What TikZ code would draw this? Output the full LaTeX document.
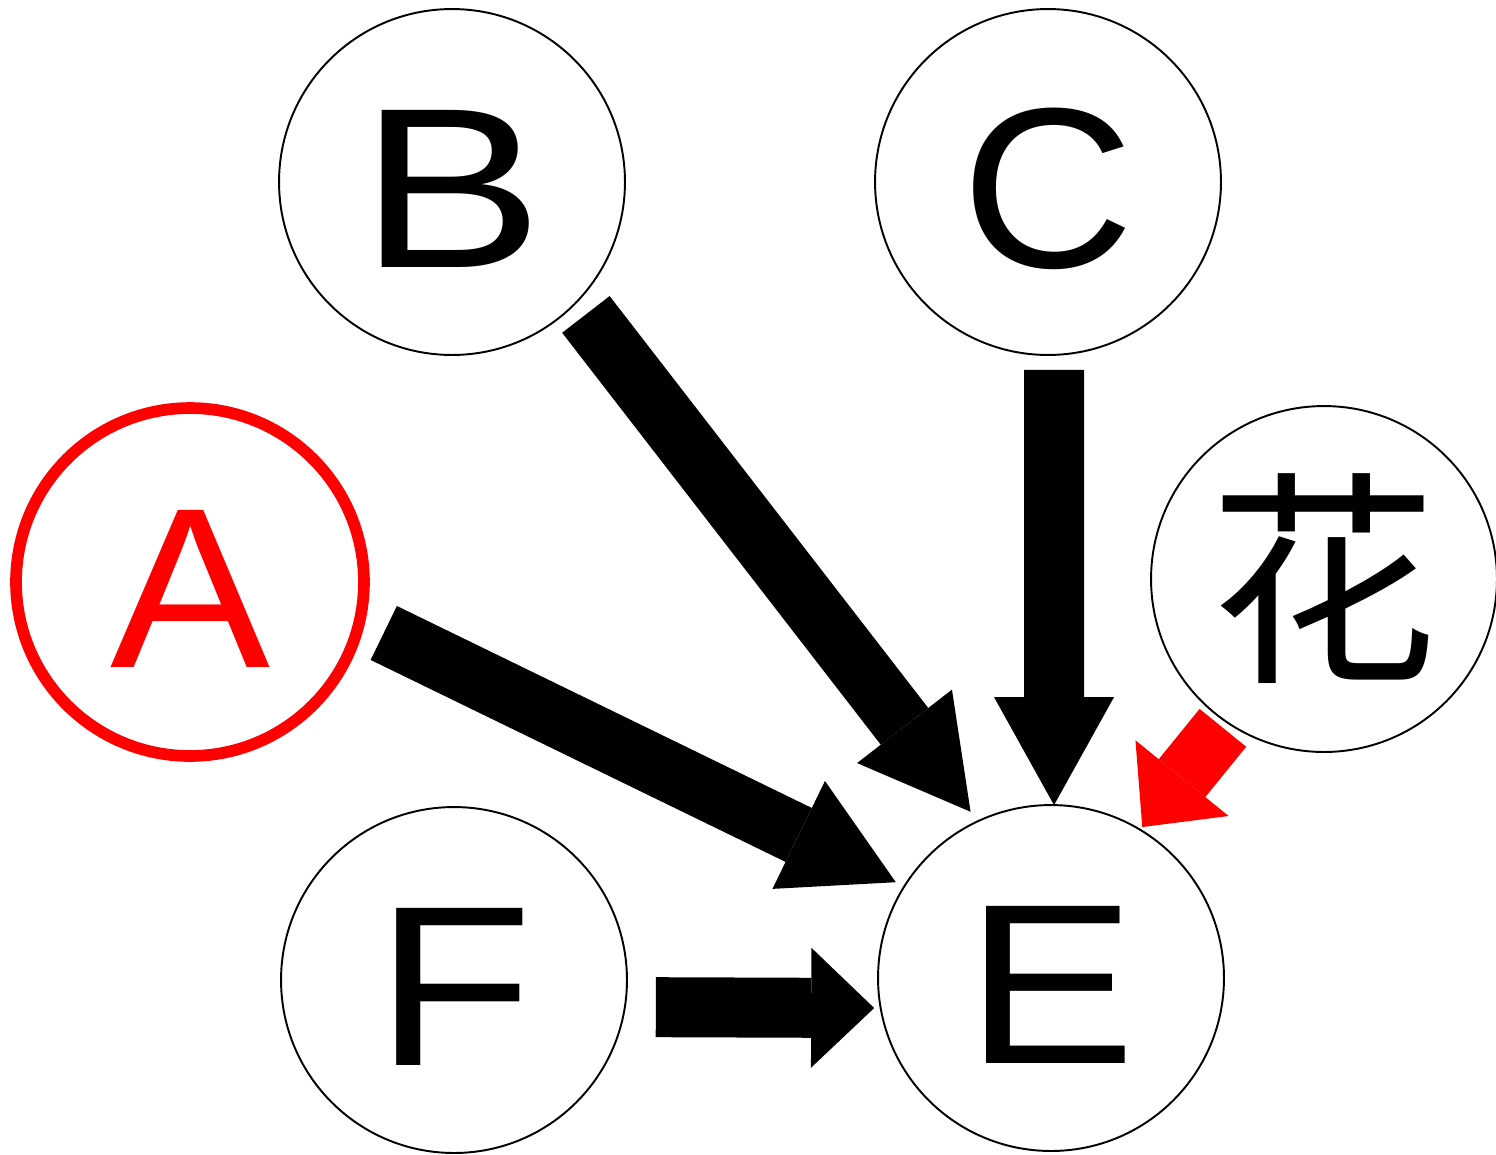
\documentclass[tikz,border=0pt]{standalone}
\usepackage{fontspec}
\usepackage{graphicx}
\setmainfont{Liberation Sans}
\newfontfamily\cjkfont{Noto Sans CJK SC}
\usetikzlibrary{arrows.meta}

\tikzset{
  vertex/.style={circle, draw, line width=1.1pt, minimum size=6.92cm, inner sep=0pt, outer sep=0pt, font=\fontsize{130}{130}\selectfont},
  letter/.style={vertex, text height=97pt, text depth=0pt},
  longhead/.style={line width=1.2cm, -{Triangle[length=2.16cm, width=2.4cm, line width=0pt]}},
  shorthead/.style={line width=1.2cm, -{Triangle[length=1.26cm, width=2.4cm, line width=0pt]}}
}

\begin{document}
\begin{tikzpicture}[x=0.02cm, y=-0.02cm]
            \useasboundingbox (0,0) rectangle (1496,1154);

            %nodes
            \node[letter, draw=red, text=red, line width=0.234cm, minimum size=6.96cm] (a) at (190, 582) {\scalebox{1.05}[1]{A}};
            \node[letter] (b) at (452, 182) {\scalebox{1.21}[1]{B}};
            \node[letter] (c) at (1048, 182) {\scalebox{1.05}[1]{C}};
            \node[vertex] (hua) at (1324, 579) {\cjkfont 花};
            \node[letter] (f) at (454, 980) {\scalebox{1.13}[1]{F}};
            \node[letter] (e) at (1051, 978) {\scalebox{1.12}[1]{E}};

            %edges
            \draw[longhead, shorten <=0.31cm, shorten >=0.24cm] (b.-44) -- (e.115);
            \draw[longhead, shorten <=0.30cm] (c.-88.3) -- (e.89.3);
            \draw[longhead, shorten <=0.54cm, shorten >=0.19cm] (a.-13) -- (e.148.4);
            \draw[shorthead, shorten <=0.62cm, shorten >=0.13cm] (f.-9.3) -- (e.190);
            \draw[shorthead, red, shorten <=0.14cm, shorten >=0.07cm] (hua.-124) -- (e.59.2);
        \end{tikzpicture}
\end{document}
